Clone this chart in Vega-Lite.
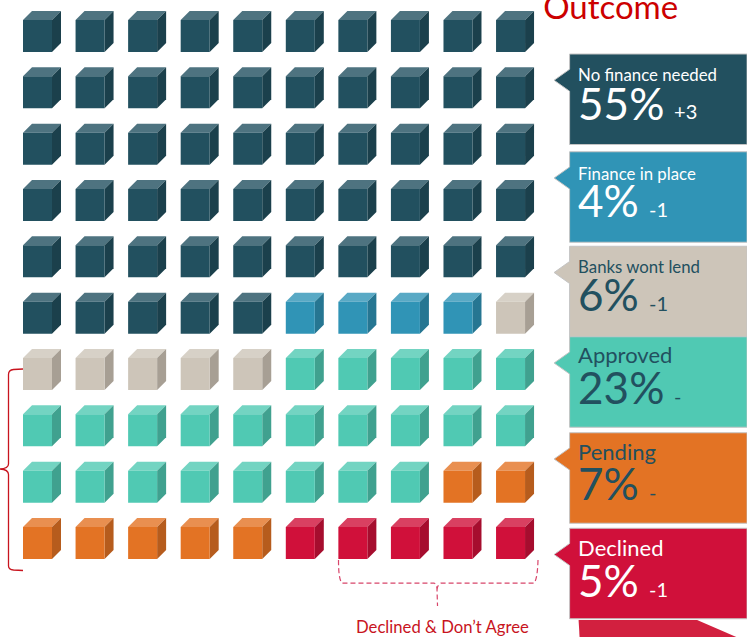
{
"$schema":"https://vega.github.io/schema/vega-lite/v6.json",
"width":747,"height":637,"padding":0,"autosize":{"type":"none"},
"background":"white","view":{"stroke":null},
"config":{"axis":{"disable":true},"legend":{"disable":true},"font":"Lato"},
"datasets":{
"cubes":[
{"col":1,"row":1,"outcome":"No finance needed"},{"col":2,"row":1,"outcome":"No finance needed"},{"col":3,"row":1,"outcome":"No finance needed"},{"col":4,"row":1,"outcome":"No finance needed"},{"col":5,"row":1,"outcome":"No finance needed"},{"col":6,"row":1,"outcome":"No finance needed"},{"col":7,"row":1,"outcome":"No finance needed"},{"col":8,"row":1,"outcome":"No finance needed"},{"col":9,"row":1,"outcome":"No finance needed"},{"col":10,"row":1,"outcome":"No finance needed"},
{"col":1,"row":2,"outcome":"No finance needed"},{"col":2,"row":2,"outcome":"No finance needed"},{"col":3,"row":2,"outcome":"No finance needed"},{"col":4,"row":2,"outcome":"No finance needed"},{"col":5,"row":2,"outcome":"No finance needed"},{"col":6,"row":2,"outcome":"No finance needed"},{"col":7,"row":2,"outcome":"No finance needed"},{"col":8,"row":2,"outcome":"No finance needed"},{"col":9,"row":2,"outcome":"No finance needed"},{"col":10,"row":2,"outcome":"No finance needed"},
{"col":1,"row":3,"outcome":"No finance needed"},{"col":2,"row":3,"outcome":"No finance needed"},{"col":3,"row":3,"outcome":"No finance needed"},{"col":4,"row":3,"outcome":"No finance needed"},{"col":5,"row":3,"outcome":"No finance needed"},{"col":6,"row":3,"outcome":"No finance needed"},{"col":7,"row":3,"outcome":"No finance needed"},{"col":8,"row":3,"outcome":"No finance needed"},{"col":9,"row":3,"outcome":"No finance needed"},{"col":10,"row":3,"outcome":"No finance needed"},
{"col":1,"row":4,"outcome":"No finance needed"},{"col":2,"row":4,"outcome":"No finance needed"},{"col":3,"row":4,"outcome":"No finance needed"},{"col":4,"row":4,"outcome":"No finance needed"},{"col":5,"row":4,"outcome":"No finance needed"},{"col":6,"row":4,"outcome":"No finance needed"},{"col":7,"row":4,"outcome":"No finance needed"},{"col":8,"row":4,"outcome":"No finance needed"},{"col":9,"row":4,"outcome":"No finance needed"},{"col":10,"row":4,"outcome":"No finance needed"},
{"col":1,"row":5,"outcome":"No finance needed"},{"col":2,"row":5,"outcome":"No finance needed"},{"col":3,"row":5,"outcome":"No finance needed"},{"col":4,"row":5,"outcome":"No finance needed"},{"col":5,"row":5,"outcome":"No finance needed"},{"col":6,"row":5,"outcome":"No finance needed"},{"col":7,"row":5,"outcome":"No finance needed"},{"col":8,"row":5,"outcome":"No finance needed"},{"col":9,"row":5,"outcome":"No finance needed"},{"col":10,"row":5,"outcome":"No finance needed"},
{"col":1,"row":6,"outcome":"No finance needed"},{"col":2,"row":6,"outcome":"No finance needed"},{"col":3,"row":6,"outcome":"No finance needed"},{"col":4,"row":6,"outcome":"No finance needed"},{"col":5,"row":6,"outcome":"No finance needed"},{"col":6,"row":6,"outcome":"Finance in place"},{"col":7,"row":6,"outcome":"Finance in place"},{"col":8,"row":6,"outcome":"Finance in place"},{"col":9,"row":6,"outcome":"Finance in place"},{"col":10,"row":6,"outcome":"Banks wont lend"},
{"col":1,"row":7,"outcome":"Banks wont lend"},{"col":2,"row":7,"outcome":"Banks wont lend"},{"col":3,"row":7,"outcome":"Banks wont lend"},{"col":4,"row":7,"outcome":"Banks wont lend"},{"col":5,"row":7,"outcome":"Banks wont lend"},{"col":6,"row":7,"outcome":"Approved"},{"col":7,"row":7,"outcome":"Approved"},{"col":8,"row":7,"outcome":"Approved"},{"col":9,"row":7,"outcome":"Approved"},{"col":10,"row":7,"outcome":"Approved"},
{"col":1,"row":8,"outcome":"Approved"},{"col":2,"row":8,"outcome":"Approved"},{"col":3,"row":8,"outcome":"Approved"},{"col":4,"row":8,"outcome":"Approved"},{"col":5,"row":8,"outcome":"Approved"},{"col":6,"row":8,"outcome":"Approved"},{"col":7,"row":8,"outcome":"Approved"},{"col":8,"row":8,"outcome":"Approved"},{"col":9,"row":8,"outcome":"Approved"},{"col":10,"row":8,"outcome":"Approved"},
{"col":1,"row":9,"outcome":"Approved"},{"col":2,"row":9,"outcome":"Approved"},{"col":3,"row":9,"outcome":"Approved"},{"col":4,"row":9,"outcome":"Approved"},{"col":5,"row":9,"outcome":"Approved"},{"col":6,"row":9,"outcome":"Approved"},{"col":7,"row":9,"outcome":"Approved"},{"col":8,"row":9,"outcome":"Approved"},{"col":9,"row":9,"outcome":"Pending"},{"col":10,"row":9,"outcome":"Pending"},
{"col":1,"row":10,"outcome":"Pending"},{"col":2,"row":10,"outcome":"Pending"},{"col":3,"row":10,"outcome":"Pending"},{"col":4,"row":10,"outcome":"Pending"},{"col":5,"row":10,"outcome":"Pending"},{"col":6,"row":10,"outcome":"Declined"},{"col":7,"row":10,"outcome":"Declined"},{"col":8,"row":10,"outcome":"Declined"},{"col":9,"row":10,"outcome":"Declined"},{"col":10,"row":10,"outcome":"Declined"}
],
"panels":[
{"rank":1,"outcome":"No finance needed","share":0.55,"change":"+3"},
{"rank":2,"outcome":"Finance in place","share":0.04,"change":"-1"},
{"rank":3,"outcome":"Banks wont lend","share":0.06,"change":"-1"},
{"rank":4,"outcome":"Approved","share":0.23,"change":"-"},
{"rank":5,"outcome":"Pending","share":0.07,"change":"-"},
{"rank":6,"outcome":"Declined","share":0.05,"change":"-1"}
]},
"resolve":{"scale":{"y":"independent","color":"independent"}},
"layer":[
{"data":{"name":"cubes"},
 "mark":{"type":"point","filled":true,"opacity":1,"strokeWidth":0,"size":4,"shape":"M-14.5,-16 L-5.5,-25 L23.5,-25 L14.5,-16 Z"},
 "encoding":{
  "x":{"field":"col","type":"quantitative","scale":{"domain":[1,11],"range":[37.5,563.1],"zero":false,"nice":false}},
  "y":{"field":"row","type":"quantitative","scale":{"domain":[1,10],"range":[36,543],"zero":false,"nice":false}},
  "color":{"field":"outcome","type":"nominal","scale":{"domain":["No finance needed","Finance in place","Banks wont lend","Approved","Pending","Declined"],"range":["#4e7380","#59a9c5","#d7d1c7","#73d4c2","#e98f50","#d94061"]}}}},
{"data":{"name":"cubes"},
 "mark":{"type":"point","filled":true,"opacity":1,"strokeWidth":0,"size":4,"shape":"M14.5,-16 L23.5,-25 L23.5,7 L14.5,16 Z"},
 "encoding":{
  "x":{"field":"col","type":"quantitative"},
  "y":{"field":"row","type":"quantitative","scale":{"domain":[1,10],"range":[36,543],"zero":false,"nice":false}},
  "color":{"field":"outcome","type":"nominal","scale":{"domain":["No finance needed","Finance in place","Banks wont lend","Approved","Pending","Declined"],"range":["#1b404c","#267692","#a79f94","#40a18f","#b65c1d","#a60d2e"]}}}},
{"data":{"name":"cubes"},
 "mark":{"type":"point","filled":true,"opacity":1,"strokeWidth":0,"size":4,"shape":"M-14.5,-16 L14.5,-16 L14.5,16 L-14.5,16 Z"},
 "encoding":{
  "x":{"field":"col","type":"quantitative"},
  "y":{"field":"row","type":"quantitative","scale":{"domain":[1,10],"range":[36,543],"zero":false,"nice":false}},
  "color":{"field":"outcome","type":"nominal","scale":{"domain":["No finance needed","Finance in place","Banks wont lend","Approved","Pending","Declined"],"range":["#22505f","#3094b6","#cdc5b9","#50c9b3","#e37324","#d0103a"]}}}},
{"data":{"name":"panels"},
 "mark":{"type":"point","filled":true,"opacity":1,"stroke":"#c4c4c4","strokeWidth":1,"size":4,"shape":"M6.5,-45.25 L184,-45.25 L184,45.25 L6.5,45.25 L6.5,-8 L-9,-19 L6.5,-30 Z"},
 "encoding":{
  "x":{"datum":11,"type":"quantitative"},
  "y":{"field":"rank","type":"quantitative","scale":{"domain":[1,2,3,4,5,6],"range":[99.25,197,291.5,382,478,573.5],"zero":false,"nice":false}},
  "color":{"field":"outcome","type":"nominal","scale":{"domain":["No finance needed","Finance in place","Banks wont lend","Approved","Pending","Declined"],"range":["#22505f","#3094b6","#cdc5b9","#50c9b3","#e37324","#d0103a"]}}}},
{"data":{"name":"panels"},
 "transform":[{"filter":"datum.rank<=3"}],
 "mark":{"type":"text","align":"left","baseline":"alphabetic","dx":15,"fontSize":16.8},
 "encoding":{
  "x":{"datum":11,"type":"quantitative"},
  "y":{"field":"rank","type":"quantitative","scale":{"domain":[1,2,3],"range":[81,180,273],"zero":false,"nice":false}},
  "text":{"field":"outcome"},
  "color":{"field":"outcome","type":"nominal","scale":{"domain":["No finance needed","Finance in place","Banks wont lend"],"range":["#ffffff","#ffffff","#22505f"]}}}},
{"data":{"name":"panels"},
 "transform":[{"filter":"datum.rank>3"}],
 "mark":{"type":"text","align":"left","baseline":"alphabetic","dx":15,"fontSize":22},
 "encoding":{
  "x":{"datum":11,"type":"quantitative"},
  "y":{"field":"rank","type":"quantitative","scale":{"domain":[4,5,6],"range":[363,460,556],"zero":false,"nice":false}},
  "text":{"field":"outcome"},
  "color":{"field":"outcome","type":"nominal","scale":{"domain":["Approved","Pending","Declined"],"range":["#22505f","#22505f","#ffffff"]}}}},
{"data":{"name":"panels"},
 "mark":{"type":"text","align":"left","baseline":"alphabetic","dx":15,"fontSize":44},
 "encoding":{
  "x":{"datum":11,"type":"quantitative"},
  "y":{"field":"rank","type":"quantitative","scale":{"domain":[1,2,3,4,5,6],"range":[120,217,311,404,500,597],"zero":false,"nice":false}},
  "text":{"field":"share","type":"quantitative","format":".0%"},
  "color":{"field":"outcome","type":"nominal","scale":{"domain":["No finance needed","Finance in place","Banks wont lend","Approved","Pending","Declined"],"range":["#ffffff","#ffffff","#22505f","#22505f","#22505f","#ffffff"]}}}},
{"data":{"name":"panels"},
 "transform":[{"filter":"datum.share>=0.1"}],
 "mark":{"type":"text","align":"left","baseline":"alphabetic","dx":111,"fontSize":20},
 "encoding":{
  "x":{"datum":11,"type":"quantitative"},
  "y":{"field":"rank","type":"quantitative","scale":{"domain":[1,4],"range":[119,404],"zero":false,"nice":false}},
  "text":{"field":"change"},
  "color":{"field":"outcome","type":"nominal","scale":{"domain":["No finance needed","Approved"],"range":["#ffffff","#22505f"]}}}},
{"data":{"name":"panels"},
 "transform":[{"filter":"datum.share<0.1"}],
 "mark":{"type":"text","align":"left","baseline":"alphabetic","dx":86,"fontSize":20},
 "encoding":{
  "x":{"datum":11,"type":"quantitative"},
  "y":{"field":"rank","type":"quantitative","scale":{"domain":[2,3,5,6],"range":[217,311,500,597],"zero":false,"nice":false}},
  "text":{"field":"change"},
  "color":{"field":"outcome","type":"nominal","scale":{"domain":["Finance in place","Banks wont lend","Pending","Declined"],"range":["#ffffff","#22505f","#22505f","#ffffff"]}}}},
{"data":{"values":[{"label":"Outcome"}]},
 "mark":{"type":"text","align":"left","baseline":"alphabetic","fontSize":33,"color":"#cc0000"},
 "encoding":{
  "x":{"datum":10.62,"type":"quantitative"},
  "y":{"datum":0.7,"type":"quantitative","scale":{"domain":[1,10],"range":[36,543],"zero":false,"nice":false}},
  "text":{"field":"label"}}},
{"data":{"values":[{"label":"Declined & Don’t Agree"}]},
 "mark":{"type":"text","align":"left","baseline":"alphabetic","fontSize":16.7,"color":"#c8141e"},
 "encoding":{
  "x":{"datum":7.06,"type":"quantitative"},
  "y":{"datum":11.6,"type":"quantitative","scale":{"domain":[1,10],"range":[36,543],"zero":false,"nice":false}},
  "text":{"field":"label"}}},
{"data":{"values":[{"annotation":"Approved bracket"}]},
 "mark":{"type":"point","filled":false,"opacity":1,"stroke":"#c8141e","strokeWidth":1.3,"size":4,"shape":"M-14.5,-89.5 L-24,-89 Q-29,-88.5 -29,-84 L-29,5.5 Q-29,10 -37.5,10.5 Q-29,11 -29,16 L-29,107.5 Q-29,111 -24,111.5 L-14.5,112"},
 "encoding":{
  "x":{"datum":1,"type":"quantitative"},
  "y":{"datum":8.5,"type":"quantitative","scale":{"domain":[1,10],"range":[36,543],"zero":false,"nice":false}}}},
{"data":{"values":[{"annotation":"Declined bracket"}]},
 "mark":{"type":"point","filled":false,"opacity":1,"stroke":"#d8456a","strokeWidth":1.2,"strokeDash":[5,3],"size":4,"shape":"M-66.9,-39.3 Q-67,-20 -63.4,-16.3 L28.6,-16.3 Q31.6,-15 31.6,-9.3 L32.1,6.7 M31.6,-9.3 Q32,-15 35.6,-16.3 L128.6,-16.3 Q132,-20 132.6,-39.3"},
 "encoding":{
  "x":{"datum":8,"type":"quantitative"},
  "y":{"datum":11,"type":"quantitative","scale":{"domain":[1,10],"range":[36,543],"zero":false,"nice":false}}}},
{"data":{"values":[{"annotation":"Next slide shape"}]},
 "mark":{"type":"point","filled":true,"opacity":1,"strokeWidth":0,"color":"#d2203f","size":4,"shape":"M15.5,20.7 L134,20.7 L174,38 L16.5,38 Z"},
 "encoding":{
  "x":{"datum":11,"type":"quantitative"},
  "y":{"datum":11,"type":"quantitative","scale":{"domain":[1,10],"range":[36,543],"zero":false,"nice":false}}}}
]
}
